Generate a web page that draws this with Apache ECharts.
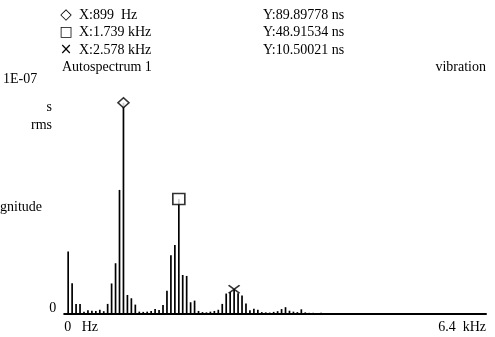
<!DOCTYPE html>
<html>
<head>
<meta charset="utf-8">
<script src="https://cdn.jsdelivr.net/npm/echarts@6/dist/echarts.min.js"></script>
<style>
html,body{margin:0;padding:0;background:#fff;}
#c{width:495px;height:337px;}
</style>
</head>
<body>
<div id="c"></div>
<script>
// Harmonic line frequencies (Hz)
var freqs = [60,120,180,240,300,360,420,480,540,600,659,719,779,839,899,959,1019,1079,1139,1199,
  1259,1319,1379,1439,1499,1559,1619,1679,1739,1798,1858,1918,1978,2038,2098,2158,2218,2278,2338,2398,
  2458,2518,2578,2638,2698,2758,2818,2878,2938,2998,3058,3118,3178,3238,3298,3358,3418,3478,3538,3598,
  3658,3718,3778,3838,3898,3958,4018,4078,4138,4198,4258,4318,4378,4438,4498];
// Magnitudes (ns rms)
var mags = [26.6,13.1,4.3,4.3,1.0,1.6,1.4,1.3,1.8,1.2,
  4.3,13.0,21.6,52.8,89.9,8.1,6.7,4.0,1.0,0.9,
  1.0,1.3,2.1,1.7,3.8,9.9,25.0,29.4,48.9,16.6,
  16.2,5.0,5.7,1.3,0.8,0.7,1.0,1.3,1.8,4.3,
  8.7,9.3,10.5,8.8,7.9,4.5,1.6,2.2,1.8,0.8,
  0.7,0.6,0.9,1.2,2.1,2.9,1.4,1.0,0.8,2.0,
  0.7,0.5,0.5,0.4,0.5,0.4,0.3,0.4,0.3,0.3,
  0.3,0.3,0.2,0.2,0.2];
// Cursor markers
var markerFreqs = [899, 1739, 2578];
var markerVals = [89.89778, 48.91534, 10.50021];
var markerSymbolChars = ['\u25C7', '\u25A1', '\u00D7'];
var markerXLabels = ['X:899  Hz', 'X:1.739 kHz', 'X:2.578 kHz'];
var markerYLabels = ['Y:89.89778 ns', 'Y:48.91534 ns', 'Y:10.50021 ns'];
// Tick labels
var xTickLabels = ['0   Hz', '6.4  kHz'];
var yTickLabels = ['0', '1E-07'];
var titleText = 'Autospectrum 1';
var channelText = 'vibration';
var yUnitLines = ['s', 'rms'];
var yName = 'Magnitude';

var FONT = '"Liberation Serif", "Times New Roman", serif';
var FS = 14;
var chart = echarts.init(document.getElementById('c'), null, {renderer: 'canvas'});

var barData = freqs.map(function (f, i) { return [f, mags[i]]; });
var symbols = ['diamond', 'rect', 'path://M0,0L10,10M10,0L0,10'];
var sizes = [[11, 10], [12, 11], [11, 8]];
var markerData = markerFreqs.map(function (f, i) {
  return {
    value: [f, markerVals[i]],
    symbol: symbols[i],
    symbolSize: sizes[i],
    itemStyle: {color: i === 2 ? 'rgba(0,0,0,0)' : '#fff', borderColor: '#000', borderWidth: 1.6}
  };
});

var graphics = [];
var symSizes = [15, 14, 15];
for (var i = 0; i < 3; i++) {
  var y = 15 + i * 17.5;
  graphics.push({type: 'text', x: 66, y: y, style: {text: markerSymbolChars[i], font: symSizes[i] + 'px "DejaVu Sans"', fill: '#000', align: 'center', verticalAlign: 'middle'}});
  graphics.push({type: 'text', x: 79, y: y, style: {text: markerXLabels[i], font: FS + 'px ' + FONT, fill: '#000', verticalAlign: 'middle'}});
  graphics.push({type: 'text', x: 263, y: y, style: {text: markerYLabels[i], font: FS + 'px ' + FONT, fill: '#000', verticalAlign: 'middle'}});
}
graphics.push({type: 'text', x: 62, y: 67, style: {text: titleText, font: FS + 'px ' + FONT, fill: '#000', verticalAlign: 'middle'}});
graphics.push({type: 'text', x: 486, y: 67, style: {text: channelText, font: FS + 'px ' + FONT, fill: '#000', align: 'right', verticalAlign: 'middle'}});
graphics.push({type: 'text', x: 52, y: 107, style: {text: yUnitLines[0], font: FS + 'px ' + FONT, fill: '#000', align: 'right', verticalAlign: 'middle'}});
graphics.push({type: 'text', x: 52, y: 125, style: {text: yUnitLines[1], font: FS + 'px ' + FONT, fill: '#000', align: 'right', verticalAlign: 'middle'}});
graphics.push({type: 'text', x: 42, y: 207, style: {text: yName, font: FS + 'px ' + FONT, fill: '#000', align: 'right', verticalAlign: 'middle'}});

chart.setOption({
  animation: false,
  backgroundColor: '#fff',
  grid: {left: 61, right: 9, top: 79, bottom: 23, containLabel: false},
  xAxis: {
    type: 'value', min: 0, max: 6400, interval: 6400,
    axisLine: {show: true, onZero: false, lineStyle: {color: '#000', width: 2}},
    axisTick: {show: false},
    splitLine: {show: false},
    axisLabel: {
      show: true, margin: 6, color: '#000', fontFamily: FONT, fontSize: FS,
      alignMinLabel: 'left', alignMaxLabel: 'right',
      formatter: function (v) { return v === 0 ? xTickLabels[0] : xTickLabels[1]; }
    }
  },
  yAxis: {
    type: 'value', min: 0, max: 100, interval: 100,
    axisLine: {show: false}, axisTick: {show: false}, splitLine: {show: false},
    axisLabel: {
      show: true, margin: 8, color: '#000', fontFamily: FONT, fontSize: FS,
      formatter: function (v) { return v === 0 ? '{a|' + yTickLabels[0] + '}' : '{b|' + yTickLabels[1] + '}'; },
      rich: {
        a: {fontFamily: FONT, fontSize: FS, color: '#000', padding: [0, 0, 12, 0]},
        b: {fontFamily: FONT, fontSize: FS, color: '#000', padding: [0, 19, 0, 0]}
      }
    }
  },
  series: [
    {type: 'bar', data: barData, barWidth: 1.7, itemStyle: {color: '#000'}, silent: true},
    {type: 'scatter', data: markerData, z: 5, silent: true}
  ],
  graphic: graphics
});
</script>
</body>
</html>
